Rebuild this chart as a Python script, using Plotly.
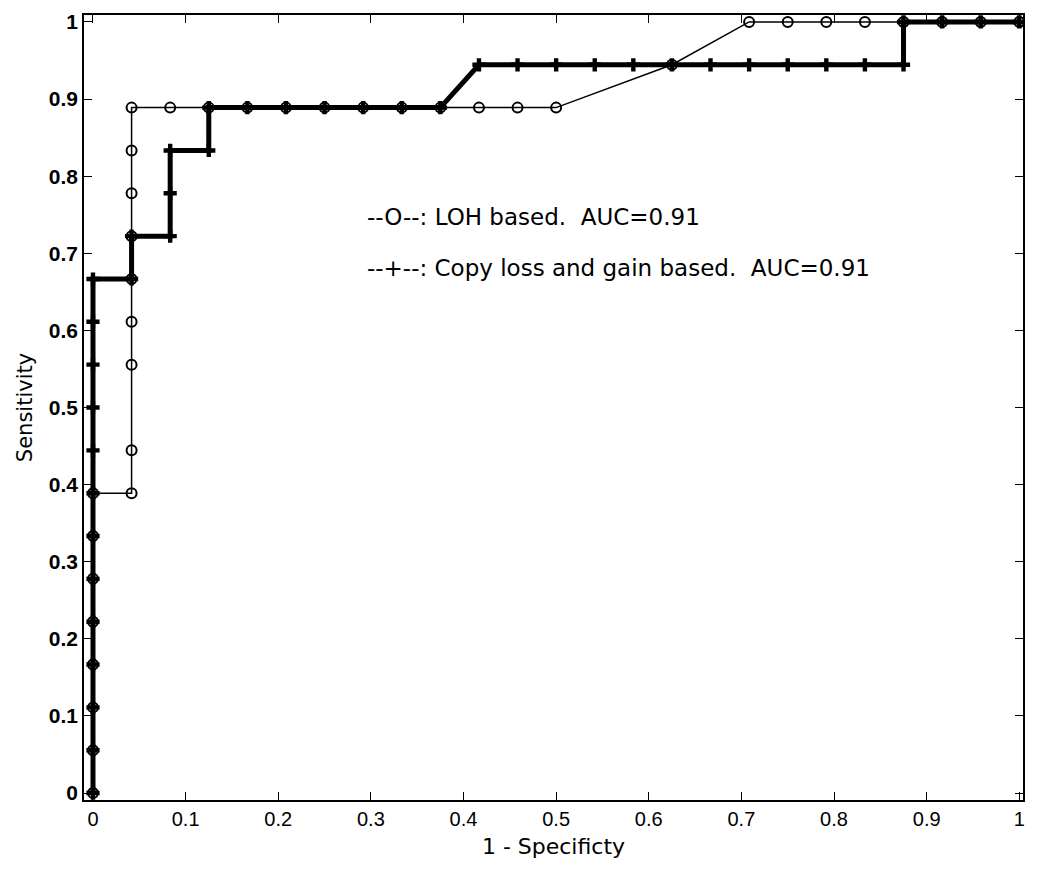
import plotly.graph_objects as go

n = 24.0
p = 18.0
# LOH based series (open circles)
loh_x = [0, 0, 0, 0, 0, 0, 0, 0, 1/n, 1/n, 1/n, 1/n, 1/n, 1/n, 1/n, 1/n, 1/n,
         2/n, 3/n, 4/n, 5/n, 6/n, 7/n, 8/n, 9/n, 10/n, 11/n, 12/n, 15/n,
         17/n, 18/n, 19/n, 20/n, 21/n, 22/n, 23/n, 1]
loh_y = [0, 1/p, 2/p, 3/p, 4/p, 5/p, 6/p, 7/p, 7/p, 8/p, 10/p, 11/p, 12/p, 13/p, 14/p, 15/p, 16/p,
         16/p, 16/p, 16/p, 16/p, 16/p, 16/p, 16/p, 16/p, 16/p, 16/p, 16/p, 17/p,
         1, 1, 1, 1, 1, 1, 1, 1]
# Copy loss and gain based series (thick line, + markers)
cn_x = [0]*13 + [1/n, 1/n, 2/n, 2/n, 2/n, 3/n, 3/n, 4/n, 5/n, 6/n, 7/n, 8/n, 9/n,
                 10/n, 11/n, 12/n, 13/n, 14/n, 15/n, 16/n, 17/n, 18/n, 19/n, 20/n, 21/n,
                 21/n, 22/n, 23/n, 1]
cn_y = [i/p for i in range(13)] + [12/p, 13/p, 13/p, 14/p, 15/p, 15/p, 16/p, 16/p, 16/p, 16/p, 16/p, 16/p, 16/p,
                                   17/p, 17/p, 17/p, 17/p, 17/p, 17/p, 17/p, 17/p, 17/p, 17/p, 17/p, 17/p,
                                   1, 1, 1, 1]

tick_vals = [0, 0.1, 0.2, 0.3, 0.4, 0.5, 0.6, 0.7, 0.8, 0.9, 1]
tick_text = ["0", "0.1", "0.2", "0.3", "0.4", "0.5", "0.6", "0.7", "0.8", "0.9", "1"]
notes = ["--O--: LOH based.  AUC=0.91", "--+--: Copy loss and gain based.  AUC=0.91"]
note_y = [0.747, 0.681]

fig = go.Figure()
fig.add_trace(go.Scatter(x=loh_x, y=loh_y, mode="lines+markers",
                         line=dict(color="black", width=1.5),
                         marker=dict(symbol="circle-open", size=10, color="black",
                                     line=dict(width=2, color="black")),
                         showlegend=False))
fig.add_trace(go.Scatter(x=cn_x, y=cn_y, mode="lines+markers",
                         line=dict(color="black", width=5),
                         marker=dict(symbol="cross", size=11, color="black",
                                     line=dict(width=0)),
                         showlegend=False))

for t, yy in zip(notes, note_y):
    fig.add_annotation(x=0.294, y=yy, xref="x", yref="y", text=t, showarrow=False,
                       xanchor="left", yanchor="middle",
                       font=dict(family="DejaVu Sans", size=23, color="black"))

axis_common = dict(showgrid=False, zeroline=False, showline=True, linecolor="black",
                   linewidth=1.5, mirror="allticks", ticks="inside", ticklen=8,
                   tickcolor="black", tickwidth=1.2, automargin=False,
                   tickvals=tick_vals, ticktext=tick_text)

fig.update_xaxes(range=[-0.0097, 1.004],
                 tickfont=dict(family="Liberation Sans, Arial", size=20, color="black"),
                 title=dict(text="1 - Specificty", standoff=10,
                            font=dict(family="DejaVu Sans", size=22, color="black")),
                 **axis_common)
fig.update_yaxes(range=[-0.009, 1.009],
                 tickfont=dict(family="Liberation Sans, Arial", size=21, color="black", weight="bold"),
                 title=dict(text="Sensitivity", standoff=10,
                            font=dict(family="DejaVu Sans", size=21, color="black")),
                 **axis_common)

fig.update_layout(width=1050, height=877, plot_bgcolor="white", paper_bgcolor="white",
                  margin=dict(l=76, r=35, t=7, b=85))

fig.write_html("out.html")
